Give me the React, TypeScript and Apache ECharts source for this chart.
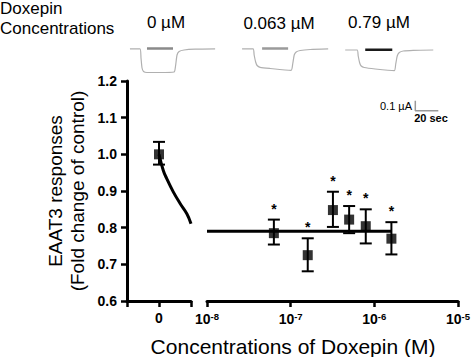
import React, { useEffect, useRef } from 'react';
import * as echarts from 'echarts';

const FONT = '"Liberation Sans", Arial, Helvetica, sans-serif';
const FRAME_COLOR = '#000';

// ---- main plot data ----
const controlX = [0];
const controlMean = [1.0];
const controlLow = [0.972];
const controlHigh = [1.034];

const concentrationsM = [6.3e-8, 1.6e-7, 3.2e-7, 5.0e-7, 7.9e-7, 1.6e-6];
const responses = [0.785, 0.725, 0.848, 0.822, 0.804, 0.77];
const errLow = [0.754, 0.681, 0.802, 0.785, 0.757, 0.727];
const errHigh = [0.822, 0.771, 0.898, 0.859, 0.85, 0.815];
const significant = [1, 1, 1, 1, 1, 1];

const fitLeftX = [0, 0.134, 0.24, 0.45, 0.66, 0.87, 1.0];
const fitLeftY = [1.0, 0.956, 0.934, 0.897, 0.866, 0.838, 0.811];
const fitRightX = [1e-8, 1.6e-6];
const fitRightY = [0.79, 0.79];

const yMin = 0.6;
const yMax = 1.2;
const yInterval = 0.1;
const leftXMin = -1;
const leftXMax = 1;
const logXMin = 1e-8;
const logXMax = 1e-5;

const trace1Time = [4.3, 13.0, 13.9, 14.8, 16.1, 19.1, 30.4, 42.6, 43.9, 45.2, 47.0, 51.3, 60.9, 78.3];
const trace1Current = [0, 0, -0.091, -0.191, -0.226, -0.236, -0.236, -0.231, -0.171, -0.061, -0.026, -0.011, -0.003, 0];
const trace2Time = [101.7, 111.3, 112.2, 113.5, 114.8, 117.4, 126.1, 144.3, 145.7, 147.0, 148.7, 152.2, 160.9, 176.5];
const trace2Current = [0, 0, -0.061, -0.131, -0.166, -0.184, -0.196, -0.214, -0.151, -0.061, -0.031, -0.016, -0.006, 0];
const trace3Time = [191.3, 201.7, 202.6, 203.9, 205.2, 207.8, 217.4, 233.9, 235.2, 236.5, 238.3, 241.7, 250.4, 267.8];
const trace3Current = [-0.011, -0.011, -0.071, -0.141, -0.171, -0.186, -0.201, -0.218, -0.151, -0.071, -0.036, -0.021, -0.014, -0.011];
const drugBarTimes = [[19.1, 41.7], [119.1, 141.7], [208.7, 232.2]];
const drugBarLevels = [0.003, 0.003, -0.008];
const drugBarColors = ['#8a8a8a', '#9a9a9a', '#1a1a1a'];
const traceLabels = ['0 µM', '0.063 µM', '0.79 µM'];
const scaleBarTime = [252.2, 272.2];
const scaleBarCurrent = [-0.618, -0.518];

const zip = (a: number[], b: number[]) => a.map((v, i) => [v, b[i]]);

function errorBarRender(params: any, api: any) {
  const x = api.value(0);
  const lo = api.value(2);
  const hi = api.value(3);
  const sig = api.value(4);
  const top = api.coord([x, hi]);
  const bot = api.coord([x, lo]);
  const w = 6;
  const st = { stroke: '#000', lineWidth: 2 };
  const children: any[] = [
    { type: 'line', shape: { x1: top[0], y1: top[1], x2: bot[0], y2: bot[1] }, style: st },
    { type: 'line', shape: { x1: top[0] - w, y1: top[1], x2: top[0] + w, y2: top[1] }, style: st },
    { type: 'line', shape: { x1: bot[0] - w, y1: bot[1], x2: bot[0] + w, y2: bot[1] }, style: st },
  ];
  if (sig) {
    children.push({
      type: 'text', x: top[0], y: top[1] - 11,
      style: { text: '*', fontSize: 14, fontWeight: 'bold', fontFamily: FONT, fill: '#000', align: 'center', verticalAlign: 'middle' },
    });
  }
  return { type: 'group', children };
}

export default function App() {
  const ref = useRef<HTMLDivElement>(null);
  useEffect(() => {
    if (!ref.current) return;
    const chart = echarts.init(ref.current, null, { renderer: 'svg' });
    const tickLabel = { color: '#000', fontSize: 14, fontWeight: 'bold' as const, fontFamily: FONT };
    const axisLine = () => ({ show: true, onZero: false, lineStyle: { color: FRAME_COLOR, width: 3 } });
    const axisTick = () => ({ show: true, inside: false, length: 6, lineStyle: { color: FRAME_COLOR, width: 2.5 } });

    const option: any = {
      animation: false,
      backgroundColor: '#fff',
      grid: [
        { left: 127, top: 81, width: 64, height: 220 },
        { left: 207, top: 81, width: 253, height: 220 },
        { left: 125, top: 44, width: 320, height: 70 },
      ],
      xAxis: [
        {
          gridIndex: 0, type: 'value', min: leftXMin, max: leftXMax, interval: 1,
          axisLine: axisLine(), axisTick: axisTick(), splitLine: { show: false },
          axisLabel: { ...tickLabel, margin: 10, formatter: (v: number) => (v === 0 ? '0' : '') },
        },
        {
          gridIndex: 1, type: 'log', logBase: 10, min: logXMin, max: logXMax,
          axisLine: axisLine(), axisTick: axisTick(), splitLine: { show: false }, minorTick: { show: false },
          axisLabel: {
            margin: 10,
            formatter: (v: number) => `{b|10}{s|${Math.round(Math.log10(v))}}`,
            rich: {
              b: { ...tickLabel, lineHeight: 16 },
              s: { color: '#000', fontSize: 9.5, fontWeight: 'bold', fontFamily: FONT, verticalAlign: 'top', lineHeight: 10 },
            },
          },
        },
        { gridIndex: 2, type: 'value', min: 0, max: 278, show: false },
      ],
      yAxis: [
        {
          gridIndex: 0, type: 'value', min: yMin, max: yMax, interval: yInterval,
          axisLine: axisLine(), axisTick: axisTick(), splitLine: { show: false },
          axisLabel: { ...tickLabel, margin: 10, formatter: (v: number) => v.toFixed(1) },
          name: 'EAAT3 responses\n(Fold change of control)',
          nameLocation: 'middle', nameRotate: 90, nameGap: 39,
          nameTextStyle: { color: '#000', fontSize: 19, lineHeight: 22, fontFamily: FONT },
        },
        { gridIndex: 1, type: 'value', min: yMin, max: yMax, show: false },
        { gridIndex: 2, type: 'value', min: -0.651, max: 0.049, show: false },
      ],
      series: [
        {
          type: 'line', xAxisIndex: 0, yAxisIndex: 0, data: zip(fitLeftX, fitLeftY), smooth: 0.4,
          showSymbol: false, lineStyle: { color: '#000', width: 3 }, z: 2,
        },
        {
          type: 'line', xAxisIndex: 1, yAxisIndex: 1, data: zip(fitRightX, fitRightY),
          showSymbol: false, lineStyle: { color: '#000', width: 3 }, z: 2,
        },
        {
          type: 'custom', xAxisIndex: 0, yAxisIndex: 0, renderItem: errorBarRender,
          data: controlX.map((x, i) => [x, controlMean[i], controlLow[i], controlHigh[i], 0]),
          encode: { x: 0, y: [1, 2, 3] }, z: 3,
        },
        {
          type: 'custom', xAxisIndex: 1, yAxisIndex: 1, renderItem: errorBarRender,
          data: concentrationsM.map((x, i) => [x, responses[i], errLow[i], errHigh[i], significant[i]]),
          encode: { x: 0, y: [1, 2, 3] }, z: 3,
        },
        {
          type: 'scatter', xAxisIndex: 0, yAxisIndex: 0, symbol: 'rect', symbolSize: 10,
          data: zip(controlX, controlMean), itemStyle: { color: '#000' }, z: 4,
        },
        {
          type: 'scatter', xAxisIndex: 1, yAxisIndex: 1, symbol: 'rect', symbolSize: 10,
          data: zip(concentrationsM, responses), itemStyle: { color: '#000' }, z: 4,
        },
        ...[zip(trace1Time, trace1Current), zip(trace2Time, trace2Current), zip(trace3Time, trace3Current)].map((d) => ({
          type: 'line', xAxisIndex: 2, yAxisIndex: 2, data: d, showSymbol: false, smooth: 0.2,
          lineStyle: { color: '#b0b0b0', width: 1.2 }, z: 2,
        })),
        ...drugBarTimes.map((t, i) => ({
          type: 'line', xAxisIndex: 2, yAxisIndex: 2, data: [[t[0], drugBarLevels[i]], [t[1], drugBarLevels[i]]],
          showSymbol: false, lineStyle: { color: drugBarColors[i], width: 2.5 }, z: 3,
        })),
        {
          type: 'line', xAxisIndex: 2, yAxisIndex: 2, showSymbol: false,
          data: [[scaleBarTime[0], scaleBarCurrent[1]], [scaleBarTime[0], scaleBarCurrent[0]], [scaleBarTime[1], scaleBarCurrent[0]]],
          lineStyle: { color: '#999', width: 1.5 }, z: 3,
        },
      ],
      graphic: [
        { type: 'text', x: 0, y: 8, style: { text: 'Doxepin', fontSize: 17, fontFamily: FONT, fill: '#000', verticalAlign: 'middle' } },
        { type: 'text', x: 0, y: 28, style: { text: 'Concentrations', fontSize: 17, fontFamily: FONT, fill: '#000', verticalAlign: 'middle' } },
        { type: 'text', x: 166, y: 22, style: { text: traceLabels[0], fontSize: 17, fontFamily: FONT, fill: '#000', align: 'center', verticalAlign: 'middle' } },
        { type: 'text', x: 279, y: 23, style: { text: traceLabels[1], fontSize: 17, fontFamily: FONT, fill: '#000', align: 'center', verticalAlign: 'middle' } },
        { type: 'text', x: 379, y: 22, style: { text: traceLabels[2], fontSize: 17, fontFamily: FONT, fill: '#000', align: 'center', verticalAlign: 'middle' } },
        { type: 'text', x: 412, y: 105.5, style: { text: '0.1 µA', fontSize: 11, fontFamily: FONT, fill: '#000', align: 'right', verticalAlign: 'middle' } },
        { type: 'text', x: 431, y: 117.5, style: { text: '20 sec', fontSize: 11, fontWeight: 'bold', fontFamily: FONT, fill: '#000', align: 'center', verticalAlign: 'middle' } },
        { type: 'text', x: 293, y: 346, style: { text: 'Concentrations of Doxepin (M)', fontSize: 21, fontFamily: FONT, fill: '#000', align: 'center', verticalAlign: 'middle' } },
      ],
    };
    chart.setOption(option);
    return () => chart.dispose();
  }, []);
  return <div ref={ref} style={{ position: 'fixed', left: 0, top: 0, width: 473, height: 357 }} />;
}
